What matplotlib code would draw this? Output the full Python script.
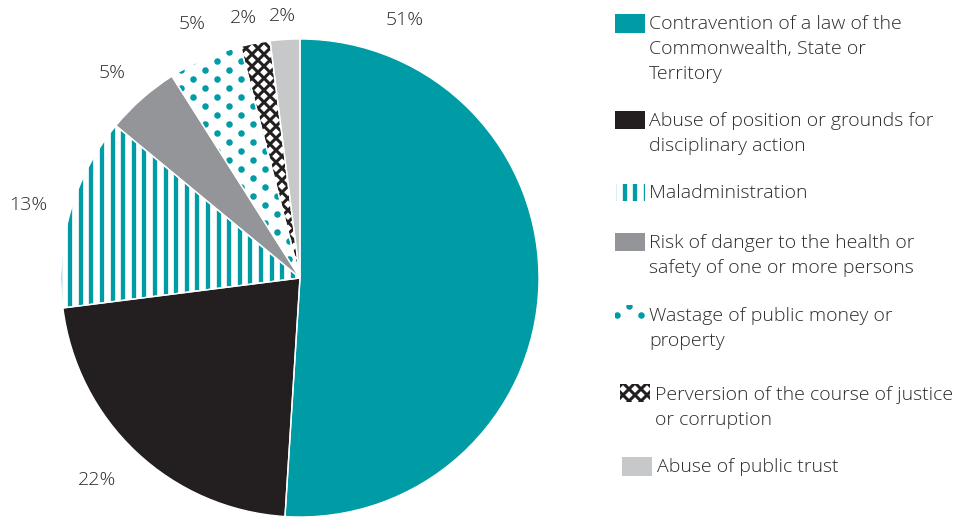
import matplotlib
matplotlib.use("Agg")
import numpy as np
import matplotlib.pyplot as plt
from matplotlib.patches import Rectangle
from matplotlib.collections import LineCollection

# data
categories = [
    "Contravention of a law of the\nCommonwealth, State or\nTerritory",
    "Abuse of position or grounds for\ndisciplinary action",
    "Maladministration",
    "Risk of danger to the health or\nsafety of one or more persons",
    "Wastage of public money or\nproperty",
    "Perversion of the course of justice\nor corruption",
    "Abuse of public trust",
]
shares = [51, 22, 13, 5, 5, 2, 2]
pct_labels = ["51%", "22%", "13%", "5%", "5%", "2%", "2%"]

TEAL = "#009ca6"
DARK = "#231f20"
GREY = "#939598"
LIGHT = "#c7c8ca"
face_colors = [TEAL, DARK, "white", GREY, "white", "white", LIGHT]
textures = [None, None, "stripes", None, "dots", "cross", None]

plt.rcParams["font.family"] = ["Open Sans", "DejaVu Sans"]
TXT = "#2b2b2b"


def add_texture(ax, clip, kind, px, x0, x1, y0, y1):
    """fill a clip patch with a stripe/dot/cross texture; px = data units per pixel"""
    if kind == "stripes":
        xs = np.arange(x0, x1, 10.6 * px)
        art = [ax.vlines(xs, y0, y1, colors=TEAL, linewidth=3.1)]
    elif kind == "dots":
        gx = np.arange(x0, x1, 12 * px)
        gy = np.arange(y0, y1, 9 * px)
        X, Y = np.meshgrid(gx, gy)
        I, J = np.meshgrid(np.arange(len(gx)), np.arange(len(gy)))
        keep = (I + J) % 2 == 0
        art = [ax.scatter(X[keep], Y[keep], s=22, color=TEAL, linewidths=0)]
    else:
        step = 12 * px
        span = (x1 - x0) + (y1 - y0)
        segs = []
        for c in np.arange(-span, span, step):
            segs.append([(x0 + c, y0), (x0 + c + (y1 - y0), y1)])
            segs.append([(x1 - c, y0), (x1 - c - (y1 - y0), y1)])
        art = [ax.add_collection(LineCollection(segs, colors=DARK, linewidths=2.2))]
    for a in art:
        a.set_clip_path(clip)


fig = plt.figure(figsize=(9.61, 5.19), dpi=100)
W, H = 961, 519

# pie: centre ~ (300, 278) px, radius ~ 239 px
r = 239
ax = fig.add_axes([(300 - r) / W, (H - 278 - r) / H, 2 * r / W, 2 * r / H])
wedges, texts = ax.pie(shares, labels=pct_labels, startangle=90, counterclock=False,
                       radius=1, labeldistance=1.14,
                       textprops=dict(fontsize=14, color=TXT, fontweight="light"))
for w, fc, tx in zip(wedges, face_colors, textures):
    w.set_facecolor(fc)
    w.set_linewidth(0)
    if tx:
        add_texture(ax, w, tx, 1 / r, -1.05, 1.05, -1.05, 1.05)
# thin white separators between slices
sep, _ = ax.pie(shares, startangle=90, counterclock=False, radius=1)
for s in sep:
    s.set_facecolor("none")
    s.set_edgecolor("white")
    s.set_linewidth(1.0)
    s.set_zorder(5)
# percentage labels as placed in the reference (pixel positions)
label_px = [(405, 20), (97, 480), (28, 205), (112, 73), (192, 24), (243, 18), (282, 16)]
for t, (lx, ly) in zip(texts, label_px):
    t.set_position(((lx - 300) / r, (278 - ly) / r))
    t.set_ha("center")
    t.set_va("center")
ax.set_xlim(-1, 1)
ax.set_ylim(-1, 1)
ax.set_aspect("equal")
ax.axis("off")

# legend drawn in pixel space
lg = fig.add_axes([0, 0, 1, 1])
lg.set_xlim(0, W)
lg.set_ylim(H, 0)
lg.axis("off")
sw_x = [615, 615, 616, 615, 615, 620, 622]
sw_y = [14, 111, 184, 233, 305, 384, 457]
sw_w = [30, 30, 29, 30, 30, 30, 30]
sw_h = [19, 18, 17, 18, 17, 18, 19]
txt_x = [649, 649, 649, 649, 649, 655, 657]
txt_y = [22, 119, 191, 241, 314, 393, 465]
for i in range(len(categories)):
    rect = Rectangle((sw_x[i], sw_y[i]), sw_w[i], sw_h[i], facecolor=face_colors[i],
                     linewidth=0)
    lg.add_patch(rect)
    if textures[i] == "dots":
        add_texture(lg, rect, "dots", 1, sw_x[i] + 2, sw_x[i] + sw_w[i] + 2,
                    sw_y[i] - 8, sw_y[i] + sw_h[i] + 2)
    elif textures[i]:
        add_texture(lg, rect, textures[i], 1, sw_x[i] - 2, sw_x[i] + sw_w[i] + 2,
                    sw_y[i] - 2, sw_y[i] + sw_h[i] + 2)
    lg.text(txt_x[i], txt_y[i] - 7, categories[i], fontsize=14, color=TXT,
            fontweight="light", va="top", ha="left", linespacing=1.5)

fig.savefig("out.png", dpi=100)
